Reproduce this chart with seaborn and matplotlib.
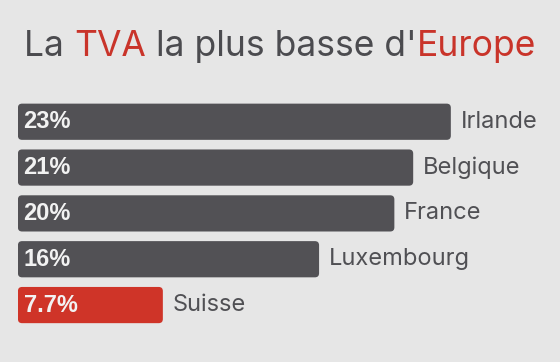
import seaborn as sns
import matplotlib.pyplot as plt
import pandas as pd
from matplotlib.patches import FancyBboxPatch

# data
pays = ['Irlande', 'Belgique', 'France', 'Luxembourg', 'Suisse']
tva = [23, 21, 20, 16, 7.7]
etiquettes = ['23%', '21%', '20%', '16%', '7.7%']
couleurs = ['#525155', '#525155', '#525155', '#525155', '#cf3428']

titre = [('La ', '#4b4b4f'), ('TVA', '#c9342a'), (' la plus basse d\'', '#4b4b4f'), ('Europe', '#c9342a')]

BG = '#e6e6e6'

sns.set_theme(style='white')
plt.rcParams['font.family'] = ['Inter', 'DejaVu Sans']

df = pd.DataFrame({'pays': pays, 'tva': tva})

fig = plt.figure(figsize=(5.6, 3.62), dpi=100)
fig.patch.set_facecolor(BG)
ax = fig.add_axes([0.032, 0.094, 0.968, 0.633])
ax.set_facecolor(BG)

sns.barplot(data=df, x='tva', y='pays', hue='pays', palette=dict(zip(pays, couleurs)),
            orient='h', width=0.79, saturation=1, legend=False, ax=ax)
ax.set_xlim(0, 28.8)
ax.set_ylim(4.5, -0.5)

# rounded corners: swap each seaborn bar for a rounded box of the same size
for p in list(ax.patches):
    x0, y0, w, h = p.get_x(), p.get_y(), p.get_width(), p.get_height()
    col = p.get_facecolor()
    p.remove()
    ax.add_patch(FancyBboxPatch((x0, y0), w, h, boxstyle='round,pad=0,rounding_size=0.22',
                                mutation_aspect=0.41, facecolor=col, edgecolor='none'))

for i, (v, lab, nom) in enumerate(zip(tva, etiquettes, pays)):
    ax.text(0.3, i, lab, ha='left', va='center', color='#f2f2f2', fontsize=17,
            fontweight='bold', family=['Liberation Sans', 'DejaVu Sans'])
    ax.annotate(nom, (v, i), xytext=(7, 0), textcoords='offset points',
                ha='left', va='center', color='#505054', fontsize=17)

ax.set_xlabel('')
ax.set_ylabel('')
ax.set_xticks([])
ax.set_yticks([])
sns.despine(ax=ax, left=True, bottom=True)

# multi-colour title, centred
fig.canvas.draw()
r = fig.canvas.get_renderer()
morceaux = [fig.text(0, 0.845, t, color=c, fontsize=25.5, va='baseline') for t, c in titre]
largeurs = [m.get_window_extent(r).width for m in morceaux]
x = (fig.bbox.width - sum(largeurs)) / 2
for m, w in zip(morceaux, largeurs):
    m.set_x(x / fig.bbox.width)
    x += w

fig.savefig('out.png', dpi=100, facecolor=BG)
